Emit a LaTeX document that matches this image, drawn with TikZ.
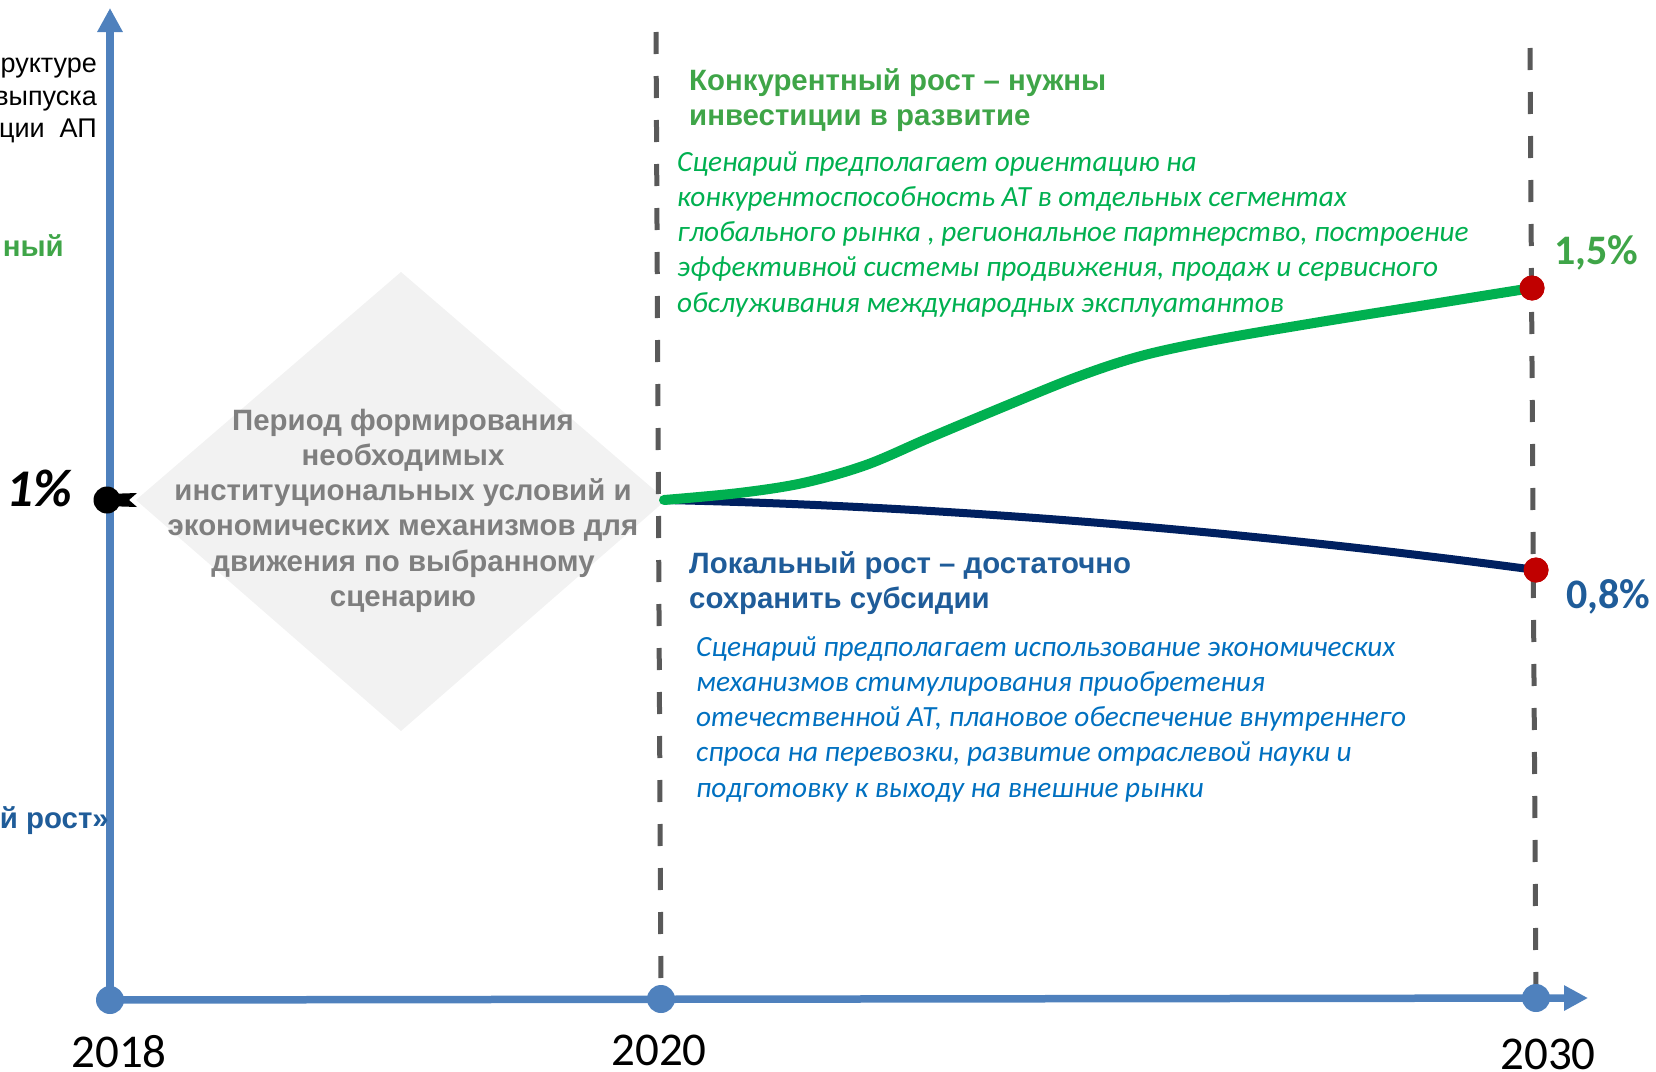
\documentclass[tikz,border=0pt]{standalone}
\usepackage{fontspec}
\setmainfont{Liberation Sans}
\newfontfamily\calib{Carlito}
\usetikzlibrary{arrows.meta}

\definecolor{axisblue}{HTML}{4F81BD}
\definecolor{guidegray}{HTML}{595959}
\definecolor{growgreen}{HTML}{00B050}
\definecolor{titlegreen}{HTML}{3FA548}
\definecolor{navyline}{HTML}{002060}
\definecolor{titleblue}{HTML}{1F5C99}
\definecolor{noteblue}{HTML}{0070C0}
\definecolor{enddot}{HTML}{C00000}
\definecolor{phasefill}{HTML}{F2F2F2}
\definecolor{phasetext}{HTML}{7F7F7F}

\tikzset{
  axisline/.style={draw=axisblue, line width=7.5pt},
  axisdot/.style={circle, fill=axisblue, inner sep=0pt, minimum size=28pt},
  reddot/.style={circle, fill=enddot, inner sep=0pt, minimum size=25pt},
  blackdot/.style={circle, fill=black, inner sep=0pt, minimum size=27pt},
  guide/.style={draw=guidegray, line width=5pt, dash pattern=on 22pt off 22pt},
  greenline/.style={draw=growgreen, line width=10pt, line cap=round},
  navy/.style={draw=navyline, line width=8pt},
  headtxt/.style={inner sep=0pt, font=\fontsize{29.4}{35}\selectfont\bfseries},
  notetxt/.style={inner sep=0pt, font=\calib\fontsize{29.3}{35}\selectfont\itshape},
  yeartxt/.style={inner sep=0pt, font=\calib\fontsize{47}{56}\selectfont},
  pcttxt/.style={inner sep=0pt, font=\calib\fontsize{42}{50}\selectfont\bfseries},
  phasetxt/.style={inner sep=0pt, text=phasetext, font=\fontsize{29.4}{35}\selectfont\bfseries},
  captxt/.style={inner sep=0pt, anchor=base east, font=\fontsize{27}{32}\selectfont},
}

\begin{document}
\begin{tikzpicture}[x=1pt, y=-1pt]
\useasboundingbox (0,0) rectangle (1656,1071);
\clip (0,0) rectangle (1656,1071);

% transition period diamond
\fill[phasefill] (401,272) -- (666,500) -- (401,731) -- (136,500) -- cycle;

% key points
\coordinate (o) at (110,1000);
\coordinate (ytip) at (110,8);
\coordinate (xtip) at (1588,998);
\coordinate (t2020) at (656,32);
\coordinate (t2030) at (1530,48);
\coordinate (s) at (664,500);

% year guides
\draw[guide] (t2020) -- (661,999);
\draw[guide] (t2030) -- (1536,998);

% axes
\draw[axisline, -{Triangle[length=24pt,width=24pt]}] (o) -- (ytip);
\draw[axisline, -{Triangle[length=24pt,width=24pt]}] (o) -- (xtip);

\node[axisdot] (d2018) at (o) {};
\node[axisdot] (d2020) at (661,999) {};
\node[axisdot] (d2030) at (1536,998) {};

% scenario curves
\node[reddot] (p15) at (1532,288) {};
\node[reddot] (p08) at (1536,570) {};
\draw[navy] (s) .. controls (900,505) and (1200,525) .. (p08.center);
\draw[greenline] plot[smooth, tension=0.55] coordinates {(s) (739,493) (803,483) (866,465) (929,438) (1003,407) (1077,377) (1141,356) (1215,340) (1320,322) (1426,305) (p15.center)};
\node[reddot] at (p15) {};
\node[reddot] at (p08) {};

% starting level marker
\node[blackdot] (d1) at (107,500) {};
\fill[black] (d1.center) ++(0,-6) -- (137,493) -- (129,500) -- (137,507) -- (107,506) -- cycle;

% year labels
\node[yeartxt] (y2018) at (119,1052) {2018};
\node[yeartxt] (y2020) at (659,1050) {2020};
\node[yeartxt] (y2030) at (1548,1054) {2030};

% level labels
\node[inner sep=0pt, font=\calib\fontsize{53}{60}\selectfont\bfseries\itshape] (l1) at (39,488) {1\%};
\node[pcttxt, text=titlegreen] (l15) at (1596,253) {1,5\%};
\node[pcttxt, text=titleblue] (l08) at (1608,597) {0,8\%};

% axis caption (partly outside)
\node[captxt] (c1) at (97,72) {руктуре};
\node[captxt] (c2) at (97,105) {выпуска};
\node[captxt] (c3) at (97,137) {ции\ \ АП};
\node[headtxt, text=titlegreen, anchor=base east] (c4) at (64,256) {ный};
\node[headtxt, text=titleblue, anchor=base east] (c5) at (109,828) {й рост»};

% competitive scenario
\node[headtxt, text=titlegreen, anchor=base west] (gh1) at (689,90) {Конкурентный рост – нужны};
\node[headtxt, text=titlegreen, anchor=base west] (gh2) at (689,125) {инвестиции в развитие};
\foreach \t [count=\i] in {
  {Сценарий предполагает ориентацию на},
  {конкурентоспособность АТ в отдельных сегментах},
  {глобального рынка , региональное партнерство, построение},
  {эффективной системы продвижения, продаж и сервисного},
  {обслуживания международных эксплуатантов}}
  \node[notetxt, text=growgreen, anchor=base west] (gn\i) at (677,{171+35.3*(\i-1)}) {\t};

% local scenario
\node[headtxt, text=titleblue, anchor=base west] (bh1) at (689,573) {Локальный рост – достаточно};
\node[headtxt, text=titleblue, anchor=base west] (bh2) at (689,608) {сохранить субсидии};
\foreach \t [count=\i] in {
  {Сценарий предполагает использование экономических},
  {механизмов стимулирования приобретения},
  {отечественной АТ, плановое обеспечение внутреннего},
  {спроса на перевозки, развитие отраслевой науки и},
  {подготовку к выходу на внешние рынки}}
  \node[notetxt, text=noteblue, anchor=base west] (bn\i) at (696,{656+35.3*(\i-1)}) {\t};

% transition period text
\foreach \t [count=\i] in {
  {Период формирования},
  {необходимых},
  {институциональных условий и},
  {экономических механизмов для},
  {движения по выбранному},
  {сценарию}}
  \node[phasetxt, anchor=base] (pt\i) at (403,{430+35.3*(\i-1)}) {\t};
\end{tikzpicture}
\end{document}
